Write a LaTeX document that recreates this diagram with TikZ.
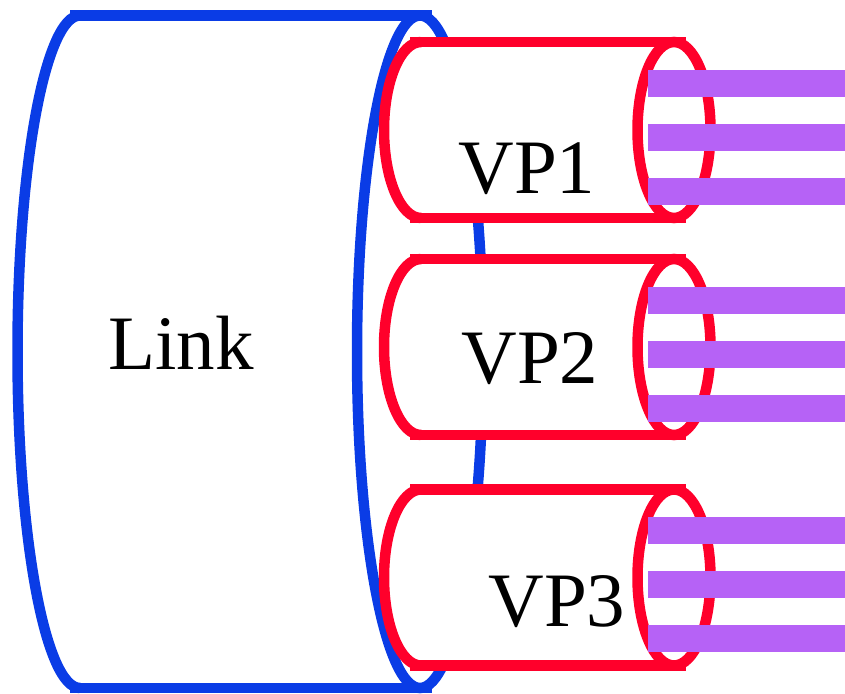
\documentclass[tikz,border=0pt]{standalone}
\usepackage{fontspec}
\setmainfont{Liberation Serif}
\definecolor{linkblue}{RGB}{10,60,230}
\definecolor{vpred}{RGB}{255,0,43}
\definecolor{chanviolet}{RGB}{182,98,246}

\begin{document}
\begin{tikzpicture}[x=1pt, y=-1pt,
        linkline/.style={draw=linkblue, line width=10.5pt},
        vpline/.style={draw=vpred, line width=10.5pt},
        chanbar/.style={draw=chanviolet, line width=27pt},
        bigtext/.style={font=\fontsize{77}{80}\selectfont, anchor=base, inner sep=0pt}]
        \useasboundingbox (0,0) rectangle (845,693);

        % Link
        \draw [linkline] (80,15.5) arc [start angle=90, end angle=270, x radius=62.5pt, y radius=336.25pt];
        \draw [linkline] (420,351.75) ellipse [x radius=63pt, y radius=336.25pt];
        \draw [linkline] (70,15.5) -- (432,15.5);
        \draw [linkline] (70,688) -- (432,688);
        \node [bigtext] (link) at (181,369) {Link};

        % VP1, VP2, VP3
        \foreach \i/\cy/\tx/\ty in {1/130/527/63, 2/347/530/36, 3/577.5/557/48.5} {
            \fill [white] (421,\cy-88) arc [start angle=90, end angle=270, x radius=37pt, y radius=88pt]
                -- (674,\cy+88) arc [start angle=-90, end angle=90, x radius=36.5pt, y radius=88pt] -- cycle;
            \draw [vpline] (421,\cy-88) arc [start angle=90, end angle=270, x radius=37pt, y radius=88pt];
            \draw [vpline] (674,\cy) ellipse [x radius=36.5pt, y radius=88pt];
            \draw [vpline] (410,\cy-88) -- (686,\cy-88);
            \draw [vpline] (410,\cy+88) -- (686,\cy+88);
            % canaux
            \foreach \d in {-47, 7, 61} {
                \draw [chanbar] (648,\cy+\d) -- (845,\cy+\d);
            }
            \node [bigtext] (vp\i) at (\tx,\cy+\ty) {VP\i};
        }
\end{tikzpicture}
\end{document}
